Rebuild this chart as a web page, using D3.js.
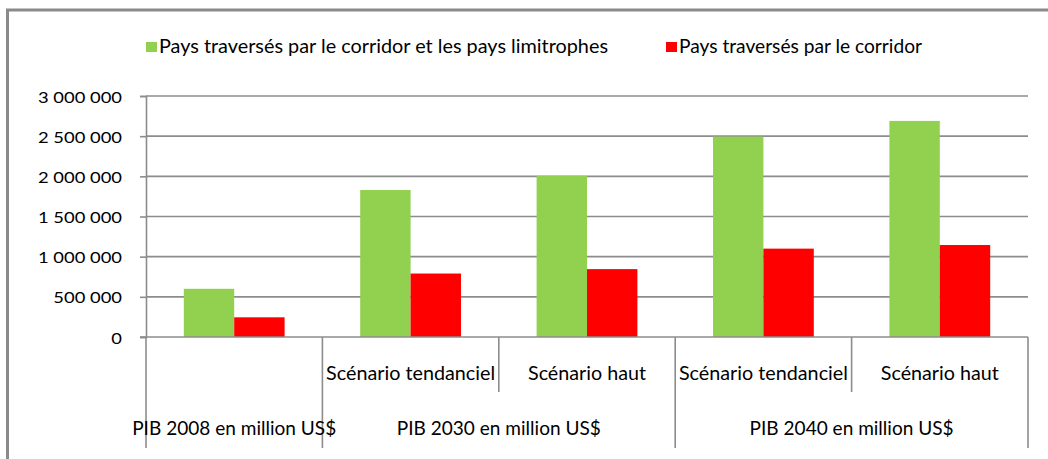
<!DOCTYPE html>
<html>
<head>
<meta charset="utf-8">
<script src="https://cdn.jsdelivr.net/npm/d3@7"></script>
<style>
    body { margin: 0; background: #fff; }
    svg { display: block; font-family: Lato, "Open Sans", sans-serif; }
</style>
</head>
<body>
<svg id="chart" width="1048" height="459"></svg>
<script>
// Chart data
const categories = ["", "Scénario tendanciel", "Scénario haut", "Scénario tendanciel", "Scénario haut"];
const groupLabels = ["PIB 2008 en million US$", "PIB 2030 en million US$", "PIB 2040 en million US$"];
const groupSpans = [1, 2, 2];
const seriesNames = ["Pays traversés par le corridor et les pays limitrophes", "Pays traversés par le corridor"];
const seriesColors = ["#92D050", "#FF0000"];
const valuesBorder = [600000, 1830000, 2005000, 2495000, 2690000];
const valuesCorridor = [245000, 790000, 845000, 1100000, 1145000];
const yTicks = [0, 500000, 1000000, 1500000, 2000000, 2500000, 3000000];

const svg = d3.select('#chart');
const gridColor = '#8c8c8c';

// plot box
const plotLeft = 146, plotRight = 1028, plotTop = 96, plotBottom = 337;

// outer frame (only top and left edges are inside the picture)
svg.append('path')
    .attr('d', `M7.5,470 V10 H1060`)
    .attr('fill', 'none')
    .attr('stroke', '#8a8a8a')
    .attr('stroke-width', 3);

const x0 = d3.scaleBand()
    .domain(d3.range(categories.length))
    .range([plotLeft, plotRight])
    .padding(0);

// Excel gap width 150%: band = 3.5 bar widths
const bw = x0.bandwidth();
const gap = bw * 1.5 / 3.5;
const x1 = d3.scaleBand()
    .domain(d3.range(seriesNames.length))
    .range([gap / 2, bw - gap / 2]);

const y = d3.scaleLinear()
    .domain([0, 3000000])
    .range([plotBottom, plotTop]);

const fr = d3.formatLocale({ decimal: ',', thousands: ' ', grouping: [3], currency: ['', ''] });
const fmt = fr.format(',d');

// gridlines
svg.append('g')
    .selectAll('line')
    .data(yTicks.filter(d => d > 0))
    .join('line')
    .attr('x1', plotLeft)
    .attr('x2', plotRight)
    .attr('y1', d => y(d))
    .attr('y2', d => y(d))
    .attr('stroke', gridColor)
    .attr('stroke-width', 1.6);

// y axis
const yAxis = svg.append('g')
    .attr('transform', `translate(${plotLeft},0)`)
    .call(d3.axisLeft(y).tickValues(yTicks).tickFormat(fmt).tickSize(6).tickPadding(18));
yAxis.select('.domain').attr('stroke', gridColor).attr('stroke-width', 1.6);
yAxis.selectAll('.tick line').attr('stroke', gridColor).attr('stroke-width', 1.6);
yAxis.selectAll('.tick text')
    .attr('font-size', 16)
    .attr('font-family', 'Lato, sans-serif')
    .attr('fill', '#000')
    .attr('dy', '0.38em');

// stretch tick labels so that "3 000 000" matches the original width
const refTick = yAxis.selectAll('.tick text').filter(d => d === 3000000).node();
const tickFactor = 84 / refTick.getComputedTextLength();
yAxis.selectAll('.tick text').each(function () {
    const w = this.getComputedTextLength();
    this.setAttribute('textLength', w * tickFactor);
    this.setAttribute('lengthAdjust', 'spacingAndGlyphs');
});

// bars
const rows = categories.map((c, i) => ({ i, vals: [valuesBorder[i], valuesCorridor[i]] }));
const barG = svg.append('g')
    .selectAll('g')
    .data(rows)
    .join('g')
    .attr('transform', d => `translate(${x0(d.i)},0)`);

barG.selectAll('rect')
    .data(d => d.vals.map((v, k) => ({ k, v })))
    .join('rect')
    .attr('x', d => x1(d.k))
    .attr('width', x1.bandwidth())
    .attr('y', d => y(d.v))
    .attr('height', d => y(0) - y(d.v))
    .attr('fill', d => seriesColors[d.k]);

// category axis baseline
svg.append('line')
    .attr('x1', plotLeft - 6)
    .attr('x2', plotRight)
    .attr('y1', plotBottom)
    .attr('y2', plotBottom)
    .attr('stroke', gridColor)
    .attr('stroke-width', 1.6);

// category separators: group edges go down to the second level
const groupEdges = [0];
groupSpans.forEach(s => groupEdges.push(groupEdges[groupEdges.length - 1] + s));
const allEdges = d3.range(categories.length + 1);
svg.append('g')
    .selectAll('line')
    .data(allEdges)
    .join('line')
    .attr('x1', i => plotLeft + i * bw)
    .attr('x2', i => plotLeft + i * bw)
    .attr('y1', plotBottom)
    .attr('y2', i => groupEdges.includes(i) ? 448 : 392)
    .attr('stroke', gridColor)
    .attr('stroke-width', 1.6);

// first level labels
const catWidths = { 'Scénario tendanciel': 169, 'Scénario haut': 118 };
svg.append('g')
    .selectAll('text')
    .data(categories.map((c, i) => ({ c, i })).filter(d => d.c))
    .join('text')
    .attr('x', d => x0(d.i) + bw / 2)
    .attr('y', 380)
    .attr('text-anchor', 'middle')
    .attr('font-size', 19)
    .attr('textLength', d => catWidths[d.c])
    .attr('lengthAdjust', 'spacingAndGlyphs')
    .text(d => d.c);

// second level labels
svg.append('g')
    .selectAll('text')
    .data(groupLabels)
    .join('text')
    .attr('x', (d, k) => plotLeft + (groupEdges[k] + groupEdges[k + 1]) / 2 * bw)
    .attr('y', 435)
    .attr('text-anchor', 'middle')
    .attr('font-size', 19)
    .attr('textLength', 204)
    .attr('lengthAdjust', 'spacingAndGlyphs')
    .text(d => d);

// legend
const legendX = [146, 666];
const legendW = [449, 243];
const legend = svg.append('g')
    .selectAll('g')
    .data(seriesNames)
    .join('g')
    .attr('transform', (d, k) => `translate(${legendX[k]},0)`);
legend.append('rect')
    .attr('x', 0)
    .attr('y', 42)
    .attr('width', 11)
    .attr('height', 10)
    .attr('fill', (d, k) => seriesColors[k]);
legend.append('text')
    .attr('x', 13)
    .attr('y', 53)
    .attr('font-size', 19)
    .attr('textLength', (d, k) => legendW[k])
    .attr('lengthAdjust', 'spacingAndGlyphs')
    .text(d => d);
</script>
</body>
</html>
